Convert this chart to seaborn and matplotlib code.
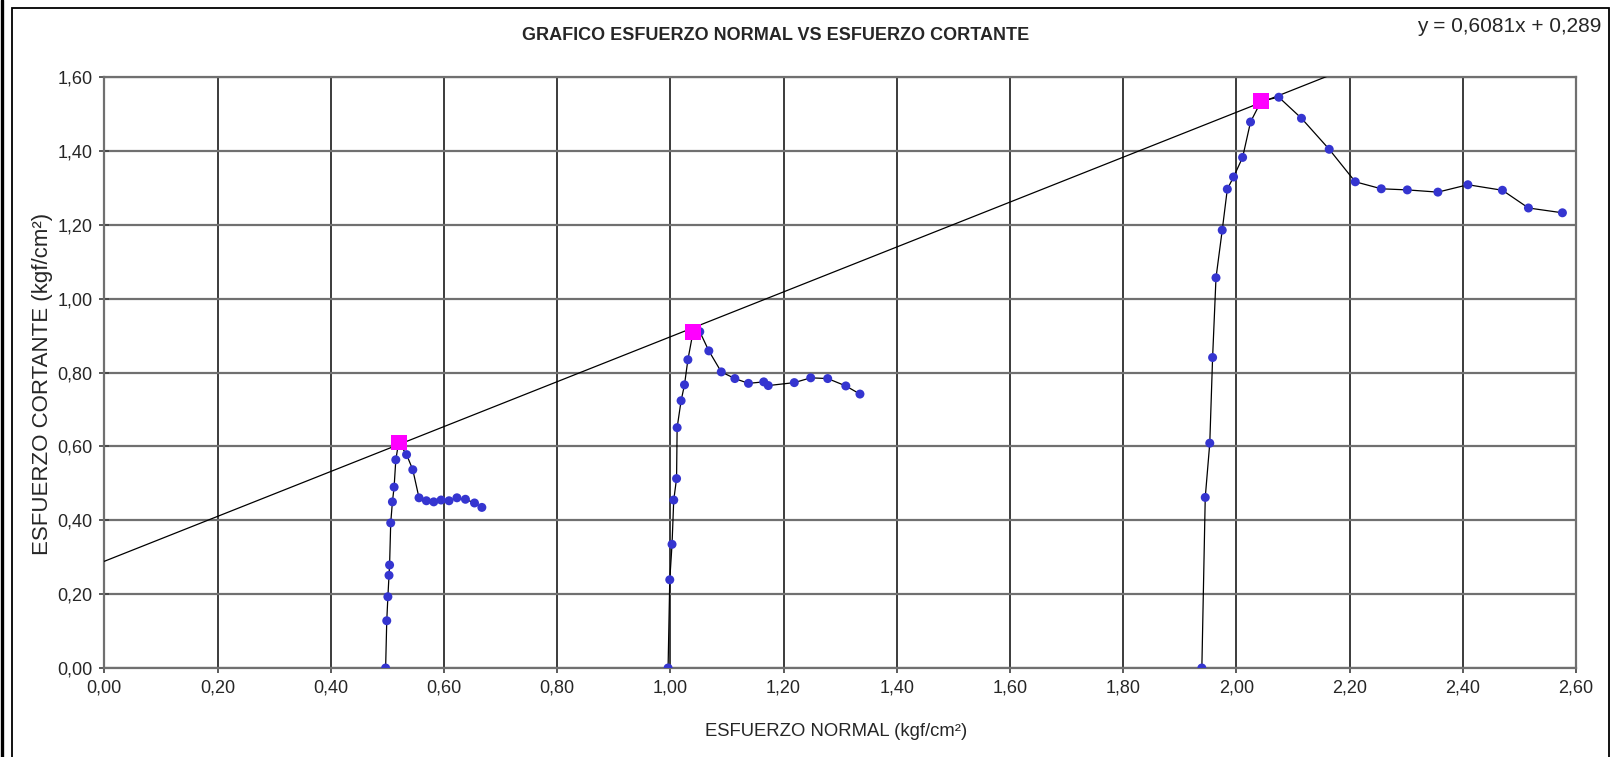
import numpy as np
import pandas as pd
import matplotlib
matplotlib.use("Agg")
import matplotlib.pyplot as plt
import seaborn as sns
from matplotlib.ticker import FuncFormatter, MultipleLocator
from matplotlib.lines import Line2D
from matplotlib.patches import Rectangle

# Datos (esfuerzo normal, esfuerzo cortante) - tres ensayos
normal_1 = [0.497, 0.499, 0.501, 0.503, 0.504, 0.506, 0.509, 0.512, 0.515, 0.520,
            0.534, 0.545, 0.556, 0.569, 0.582, 0.595, 0.609, 0.623, 0.638, 0.654, 0.667]
cortante_1 = [0.000, 0.128, 0.193, 0.251, 0.279, 0.393, 0.450, 0.490, 0.564, 0.611,
              0.578, 0.537, 0.461, 0.453, 0.450, 0.455, 0.453, 0.461, 0.457, 0.447, 0.435]

normal_2 = [0.996, 0.999, 1.003, 1.006, 1.011, 1.012, 1.019, 1.025, 1.031, 1.040, 1.052,
            1.068, 1.090, 1.114, 1.138, 1.165, 1.173, 1.219, 1.248, 1.278, 1.310, 1.335]
cortante_2 = [0.000, 0.239, 0.335, 0.455, 0.513, 0.651, 0.724, 0.767, 0.835, 0.909, 0.911,
              0.859, 0.802, 0.784, 0.771, 0.775, 0.765, 0.773, 0.786, 0.784, 0.764, 0.742]

normal_3 = [1.939, 1.945, 1.953, 1.958, 1.964, 1.975, 1.984, 1.995, 2.011, 2.025, 2.044,
            2.075, 2.115, 2.164, 2.210, 2.256, 2.302, 2.356, 2.409, 2.470, 2.516, 2.576]
cortante_3 = [0.000, 0.462, 0.609, 0.841, 1.057, 1.186, 1.297, 1.330, 1.383, 1.479, 1.536,
              1.546, 1.489, 1.405, 1.317, 1.298, 1.295, 1.289, 1.309, 1.294, 1.246, 1.233]

# picos (maximos) usados para la recta de falla
pico_normal = [0.520, 1.040, 2.044]
pico_cortante = [0.611, 0.909, 1.536]

pendiente = 0.6081
intercepto = 0.289

titulo = "GRAFICO ESFUERZO NORMAL VS ESFUERZO CORTANTE"
xlabel = "ESFUERZO NORMAL (kgf/cm²)"
ylabel = "ESFUERZO CORTANTE (kgf/cm²)"
ecuacion = "y = 0,6081x + 0,289"

sns.set_style("white")
plt.rcParams['font.family'] = ['Liberation Sans', 'DejaVu Sans']

W, H = 1611, 757
fig = plt.figure(figsize=(W / 100, H / 100), dpi=100)
ax = fig.add_axes([104.3 / W, 1 - 668 / H, (1576 - 104.3) / W, (668 - 77.3) / H])

# recta de tendencia
xr = np.array([0.0, 2.6])
recta = pd.DataFrame({'x': xr, 'y': pendiente * xr + intercepto})
sns.lineplot(data=recta, x='x', y='y', color='black', lw=0.9, ax=ax, zorder=3)

# curvas de ensayo
for xs, ys in [(normal_1, cortante_1), (normal_2, cortante_2), (normal_3, cortante_3)]:
    d = pd.DataFrame({'x': xs, 'y': ys})
    sns.lineplot(data=d, x='x', y='y', sort=False, estimator=None, color='black',
                 lw=0.9, ax=ax, zorder=4)
    sns.scatterplot(data=d, x='x', y='y', color='#3535d0', s=42, edgecolor='none',
                    ax=ax, zorder=5)

picos = pd.DataFrame({'x': pico_normal, 'y': pico_cortante})
sns.scatterplot(data=picos, x='x', y='y', marker='s', color='#ff00ff', s=130,
                edgecolor='none', ax=ax, zorder=6)

ax.set_xlim(0, 2.6)
ax.set_ylim(0, 1.6)
ax.xaxis.set_major_locator(MultipleLocator(0.2))
ax.yaxis.set_major_locator(MultipleLocator(0.2))
fmt = FuncFormatter(lambda v, p: f"{v:.2f}".replace('.', ','))
ax.xaxis.set_major_formatter(fmt)
ax.yaxis.set_major_formatter(fmt)

ax.grid(axis='x', color='#1a1a1a', lw=1.2)
ax.grid(axis='y', color='#707070', lw=1.6)
ax.set_axisbelow(True)
for s in ax.spines.values():
    s.set_color('#707070')
    s.set_linewidth(1.6)

ax.tick_params(axis='both', direction='inout', length=7, width=1.2, color='#404040',
               labelsize=13, pad=5, bottom=True, left=True)
ax.set_xlabel("")
ax.set_ylabel("")

fig.text(776 / W, 1 - 36 / H, titulo, ha='center', va='center', fontsize=13,
         fontweight='bold')
fig.text(836 / W, 1 - 731 / H, xlabel, ha='center', va='center', fontsize=13.3)
fig.text(43 / W, 1 - 384 / H, ylabel, ha='center', va='center', fontsize=16,
         rotation=90)
fig.text(1601 / W, 1 - 26 / H, ecuacion, ha='right', va='center', fontsize=15)

# marco del area del grafico
fig.add_artist(Line2D([1.5 / W, 1.5 / W], [0, 1], color='black', lw=2.4))
fig.add_artist(Rectangle((12 / W, -0.05), (1609 - 12) / W, 1.05 - 8 / H,
                         fill=False, edgecolor='black', lw=1.3))

fig.savefig("out.png", dpi=100)
